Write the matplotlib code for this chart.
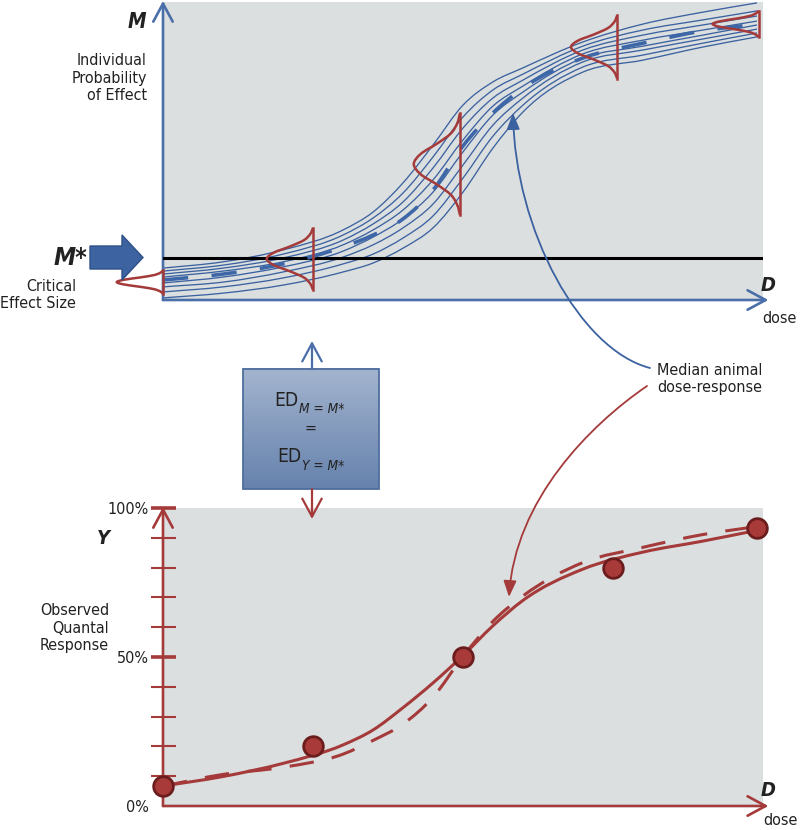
import numpy as np
import matplotlib
matplotlib.use('Agg')
import matplotlib.pyplot as plt
from matplotlib import font_manager as fm
from matplotlib.path import Path
from matplotlib.patches import PathPatch, FancyArrow, FancyArrowPatch, Rectangle
from matplotlib.colors import LinearSegmentedColormap

# the original uses a condensed sans; take the narrowest one we have
names = {f.name for f in fm.fontManager.ttflist}
has_cond = any(f.name == 'DejaVu Sans' and 'condensed' in str(f.stretch)
               for f in fm.fontManager.ttflist)
if 'Liberation Sans Narrow' in names:
    FAMILY, BODY = 'Liberation Sans Narrow', 13.5
elif has_cond:
    FAMILY, BODY = 'DejaVu Sans', 11.5
    plt.rcParams['font.stretch'] = 'condensed'
else:
    FAMILY, BODY = 'Roboto', 11.5
plt.rcParams['font.family'] = [FAMILY, 'DejaVu Sans']

# ---------------- data ----------------
# top panel: dose (0-1) vs individual probability of effect M (%)
curve_dose = [0, 0.1, 0.2, 0.3, 0.35, 0.4, 0.45, 0.5, 0.55, 0.6, 0.7, 0.8, 0.9, 0.99]
indiv_M = [
    [10.7, 12.8, 16.8, 23.5, 29.5, 39.3, 52.0, 65.4, 73.2, 77.9, 86.6, 92.6, 96.6, 99.7],
    [9.7, 11.7, 15.4, 21.8, 27.5, 35.9, 48.0, 61.4, 70.5, 75.8, 85.2, 90.6, 94.0, 97.0],
    [8.7, 10.7, 14.1, 20.1, 25.5, 32.9, 44.3, 57.7, 67.8, 73.8, 83.9, 88.9, 92.3, 95.3],
    [7.7, 9.7, 12.8, 18.5, 23.5, 30.2, 40.3, 53.7, 65.1, 71.8, 82.6, 87.2, 90.6, 93.6],
    [5.7, 7.7, 11.1, 16.4, 21.1, 27.2, 36.2, 49.7, 62.1, 69.8, 81.2, 85.2, 88.9, 92.3],
    [4.4, 6.0, 9.4, 14.4, 18.5, 24.2, 32.2, 45.3, 58.7, 67.8, 79.9, 83.9, 87.6, 90.9],
    [2.7, 4.4, 7.4, 12.1, 15.4, 20.8, 28.2, 40.9, 55.0, 65.4, 78.2, 82.2, 86.2, 89.6],
    [0.7, 2.3, 5.0, 9.4, 12.4, 17.4, 24.2, 36.2, 51.0, 63.1, 76.5, 80.5, 84.9, 88.3],
]
median_M = [6.7, 8.7, 12.1, 17.8, 21.8, 27.2, 36.9, 51.7, 62.8, 71.1, 81.2, 86.2, 90.3, 92.6]
critical_M = 14.1

# spread of M between animals at a few doses
dist_doses = [0, 0.25, 0.495, 0.757, 0.993]
dist_center = [6.0, 13.8, 45.6, 84.9, 92.6]
dist_half = [3.9, 10.4, 17.1, 10.6, 4.5]
dist_t = [-1, -0.8, -0.6, -0.4, -0.2, 0, 0.2, 0.4, 0.6, 0.8, 1]
dist_w = [0, 0.06, 0.2, 0.5, 0.85, 1.0, 0.85, 0.5, 0.2, 0.06, 0]
dist_width = 0.077

# bottom panel: observed quantal response Y (%)
obs_dose = [0, 0.25, 0.5, 0.75, 0.99]
obs_Y = [6.7, 20, 50, 80, 93.3]
fit_dose = [0, 0.1, 0.2, 0.3, 0.35, 0.4, 0.45, 0.5, 0.55, 0.6, 0.7, 0.8, 0.9, 0.99]
fit_Y = [6.7, 9.9, 14.3, 20.5, 25.5, 33.0, 41.3, 50.5, 60.5, 69.0, 79.5, 85.2, 88.9, 92.5]
median_Y = [6.7, 10.6, 13.0, 17.4, 22.0, 27.5, 36.5, 50.2, 62.0, 70.5, 81.7, 86.8, 91.1, 93.8]

y_ticks = [0, 50, 100]
y_ticklabels = ['0%', '50%', '100%']

BLUE = '#4a6fa8'
LINEBLUE = '#3b62a0'
RED = '#a53a3a'
GREY = '#dcdfe0'
TXT = '#222222'


def smooth_path(xs, ys, param=None):
    # cubic hermite through the read points (drawn as bezier segments)
    x = np.asarray(xs, float)
    y = np.asarray(ys, float)
    t = x if param is None else np.asarray(param, float)
    dx = np.gradient(x, t)
    dy = np.gradient(y, t)
    verts = [(x[0], y[0])]
    codes = [Path.MOVETO]
    for i in range(len(t) - 1):
        h = (t[i + 1] - t[i]) / 3
        verts += [(x[i] + dx[i] * h, y[i] + dy[i] * h),
                  (x[i + 1] - dx[i + 1] * h, y[i + 1] - dy[i + 1] * h),
                  (x[i + 1], y[i + 1])]
        codes += [Path.CURVE4] * 3
    return Path(verts, codes)


def draw_curve(ax, xs, ys, param=None, **kw):
    patch = PathPatch(smooth_path(xs, ys, param), fill=False,
                      transform=ax.transData, **kw)
    ax.add_patch(patch)
    return patch


def axis_arrows(ax, color):
    style = dict(arrowstyle='->,head_length=0.65,head_width=0.35', color=color,
                 lw=1.9, shrinkA=0, shrinkB=0, mutation_scale=20)
    ax.annotate('', xy=(0, 1.004), xytext=(0, 0), xycoords='axes fraction',
                arrowprops=style, annotation_clip=False)
    ax.annotate('', xy=(1.009, 0), xytext=(0, 0), xycoords='axes fraction',
                arrowprops=style, annotation_clip=False)


fig = plt.figure(figsize=(8, 8.3), dpi=100)

# ---------------- top panel ----------------
ax1 = fig.add_axes([163 / 800, 1 - 300 / 830, 600 / 800, 298 / 830])
ax1.set_facecolor(GREY)
ax1.set_xlim(0, 1)
ax1.set_ylim(0, 100)
for s in ax1.spines.values():
    s.set_visible(False)
ax1.set_xticks([])
ax1.set_yticks([])

for ys in indiv_M:
    draw_curve(ax1, curve_dose, ys, edgecolor=LINEBLUE, lw=0.95, zorder=3)
draw_curve(ax1, curve_dose, median_M, edgecolor='#3e67a8', lw=2.6,
           linestyle=(0, (7, 6.5)), zorder=4)
ax1.axhline(critical_M, color='black', lw=2.2, zorder=3.5)

for d, c, h in zip(dist_doses, dist_center, dist_half):
    xs = [d - dist_width * w for w in dist_w]
    ys = [c + h * t for t in dist_t]
    p = draw_curve(ax1, xs, ys, param=dist_t, edgecolor=RED, lw=1.8, zorder=5)
    p.set_clip_on(False)
    ax1.plot([d, d], [c - h, c + h], color=RED, lw=1.8, zorder=5, clip_on=False)

axis_arrows(ax1, BLUE)

# ---------------- bottom panel ----------------
ax2 = fig.add_axes([163 / 800, 1 - 806 / 830, 600 / 800, 298 / 830])
ax2.set_facecolor(GREY)
ax2.set_xlim(0, 1)
ax2.set_ylim(0, 100)
for s in ax2.spines.values():
    s.set_visible(False)
ax2.set_xticks([])
ax2.set_yticks(y_ticks)
ax2.set_yticklabels(y_ticklabels)
ax2.set_yticks([v for v in range(10, 100, 10) if v != 50], minor=True)
ax2.tick_params(axis='y', which='major', direction='inout', length=18, width=2.6,
                color=RED, labelsize=BODY, labelcolor=TXT, pad=1)
ax2.tick_params(axis='y', which='minor', direction='inout', length=18, width=1.5,
                color=RED)
ax2.yaxis.get_major_ticks()[0].tick1line.set_visible(False)

draw_curve(ax2, fit_dose, fit_Y, edgecolor=RED, lw=2.2, zorder=3)
draw_curve(ax2, fit_dose, median_Y, edgecolor=RED, lw=2.2,
           linestyle=(0, (8, 6)), zorder=3)
ax2.scatter(obs_dose, obs_Y, s=200, color='#a83a3a', edgecolor='#6b1c1c',
            linewidth=2, zorder=6, clip_on=False)

axis_arrows(ax2, RED)

# ---------------- annotations (figure pixels) ----------------
ax0 = fig.add_axes([0, 0, 1, 1], facecolor='none')
ax0.set_xlim(0, 800)
ax0.set_ylim(830, 0)
ax0.axis('off')

ax0.text(137, 22, 'M', fontsize=BODY * 1.3, fontweight='bold', style='italic',
         ha='center', va='center', color=TXT)
ax0.text(147, 78, 'Individual\nProbability\nof Effect', fontsize=BODY, ha='right',
         va='center', color=TXT, linespacing=1.2)
ax0.text(70, 258, 'M*', fontsize=BODY * 1.55, fontweight='bold', style='italic',
         ha='center', va='center', color=TXT)
ax0.text(76, 295, 'Critical\nEffect Size', fontsize=BODY, ha='right', va='center',
         color=TXT, linespacing=1.2)
ax0.add_patch(FancyArrow(90, 257.5, 53, 0, width=23, head_width=45, head_length=21,
                         length_includes_head=True, facecolor='#3d63a0',
                         edgecolor='#2f5088', lw=1))
ax0.text(768, 285, 'D', fontsize=BODY * 1.25, fontweight='bold', style='italic',
         ha='center', va='center', color=TXT)
ax0.text(779, 318, 'dose', fontsize=BODY, ha='center', va='center', color=TXT)

ax0.text(103, 538, 'Y', fontsize=BODY * 1.25, fontweight='bold', style='italic',
         ha='center', va='center', color=TXT)
ax0.text(109, 628, 'Observed\nQuantal\nResponse', fontsize=BODY, ha='right',
         va='center', color=TXT, linespacing=1.2)
ax0.text(768, 790, 'D', fontsize=BODY * 1.25, fontweight='bold', style='italic',
         ha='center', va='center', color=TXT)
ax0.text(780, 820, 'dose', fontsize=BODY, ha='center', va='center', color=TXT)

# ED box with vertical gradient
box_cmap = LinearSegmentedColormap.from_list('box', ['#a3b4ce', '#6682ad'])
ax0.imshow(np.linspace(0, 1, 64).reshape(-1, 1), cmap=box_cmap, aspect='auto',
           extent=[243, 379, 489, 369], origin='upper', zorder=2)
ax0.add_patch(Rectangle((243, 369), 136, 120, fill=False, edgecolor='#4e6e9e',
                        lw=1.3, zorder=3))
ax0.set_xlim(0, 800)
ax0.set_ylim(830, 0)
ax0.text(298, 400, 'ED', fontsize=BODY * 1.2, ha='right', va='center', color=TXT,
         zorder=4)
ax0.text(299, 409, 'M = M*', fontsize=BODY * 0.85, style='italic', ha='left',
         va='center', color=TXT, zorder=4)
ax0.text(310, 428, '=', fontsize=BODY, ha='center', va='center', color=TXT,
         zorder=4)
ax0.text(301, 456, 'ED', fontsize=BODY * 1.2, ha='right', va='center', color=TXT,
         zorder=4)
ax0.text(302, 466, 'Y = M*', fontsize=BODY * 0.85, style='italic', ha='left',
         va='center', color=TXT, zorder=4)

chev = '->,head_length=0.65,head_width=0.35'
ax0.annotate('', xy=(312, 341), xytext=(312, 369),
             arrowprops=dict(arrowstyle=chev, color=BLUE, lw=1.6, shrinkA=0,
                             shrinkB=0, mutation_scale=20))
ax0.annotate('', xy=(312, 519), xytext=(312, 489),
             arrowprops=dict(arrowstyle=chev, color=RED, lw=1.6, shrinkA=0,
                             shrinkB=0, mutation_scale=20))

# "Median animal dose-response" callouts
ax0.text(657, 379, 'Median animal\ndose-response', fontsize=BODY, ha='left',
         va='center', color=TXT, linespacing=1.2)
head = '-|>,head_length=0.7,head_width=0.28'
blue_path = Path([(650, 368), (580, 350), (515, 230), (513, 113)],
                 [Path.MOVETO, Path.CURVE4, Path.CURVE4, Path.CURVE4])
ax0.add_patch(FancyArrowPatch(path=blue_path, arrowstyle=head, mutation_scale=14,
                              color=LINEBLUE, lw=1.3, transform=ax0.transData,
                              zorder=6))
red_path = Path([(647, 386), (590, 425), (515, 500), (509, 597)],
                [Path.MOVETO, Path.CURVE4, Path.CURVE4, Path.CURVE4])
ax0.add_patch(FancyArrowPatch(path=red_path, arrowstyle=head, mutation_scale=14,
                              color=RED, lw=1.3, transform=ax0.transData, zorder=6))

fig.savefig('out.png', dpi=100)
